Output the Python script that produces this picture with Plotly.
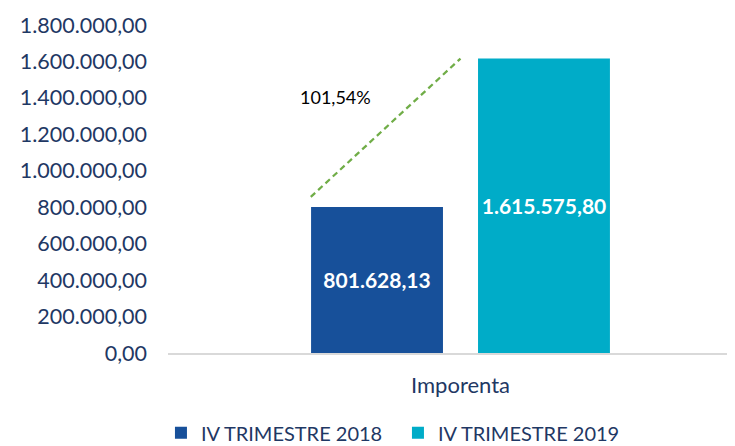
import plotly.graph_objects as go

categories = ["Imporenta"]
series_names = ["IV TRIMESTRE 2018", "IV TRIMESTRE 2019"]
values_2018 = [801628.13]
values_2019 = [1615575.80]
y_ticks = [0, 200000, 400000, 600000, 800000, 1000000, 1200000, 1400000, 1600000, 1800000]

bar_colors = ["#17509A", "#00ACC8"]
text_color = "#1F3864"
font_family = "Lato"

fig = go.Figure()
for name, vals, color in zip(series_names, [values_2018, values_2019], bar_colors):
    fig.add_trace(go.Bar(
        x=categories, y=vals, name=name, marker_color=color, marker_line_width=0,
        texttemplate="%{y:,.2f}", textposition="inside", insidetextanchor="middle",
        textangle=0, constraintext="none",
        textfont=dict(family=font_family, size=21, color="white", weight="bold"),
        cliponaxis=False,
    ))

# growth arrow from first bar to second
growth = (values_2019[0] / values_2018[0] - 1) * 100
fig.add_shape(type="line", xref="x", yref="y",
              x0=-0.265, y0=values_2018[0] + 55000, x1=0.0, y1=values_2019[0],
              line=dict(color="#70AD47", width=2.25, dash="6px,4px"))
fig.add_annotation(x=-0.222, y=1405000, xref="x", yref="y", showarrow=False,
                   text=f"{growth:.2f}%".replace(".", ","),
                   font=dict(family=font_family, size=18, color="#000000"))

# page body adds an 8px offset, so the figure is a little smaller than the window
fig.update_layout(
    width=727, height=438,
    margin=dict(l=160, r=2, t=17, b=93, autoexpand=False),
    paper_bgcolor="white", plot_bgcolor="white",
    separators=",.",
    barmode="group", bargap=0.409, bargroupgap=0.21,
    font=dict(family=font_family, size=21, color=text_color),
    showlegend=True,
    legend=dict(orientation="h", x=0.407, xanchor="center", y=-0.243, yanchor="middle",
                font=dict(family=font_family, size=20, color=text_color),
                itemwidth=30, tracegroupgap=0, entrywidth=192),
)
fig.update_xaxes(range=[-0.5177, 0.4823], showline=True, linecolor="#D9D9D9", linewidth=2,
                 showgrid=False, ticks="", ticklabelstandoff=12, automargin=False,
                 tickfont=dict(family=font_family, size=22, color=text_color))
fig.update_yaxes(range=[0, 1800000], tickvals=y_ticks, tickformat=",.2f",
                 showgrid=False, zeroline=False, showline=False, ticks="",
                 ticklabelstandoff=20, automargin=False,
                 tickfont=dict(family=font_family, size=21.5, color=text_color))

fig.write_html("out.html")
